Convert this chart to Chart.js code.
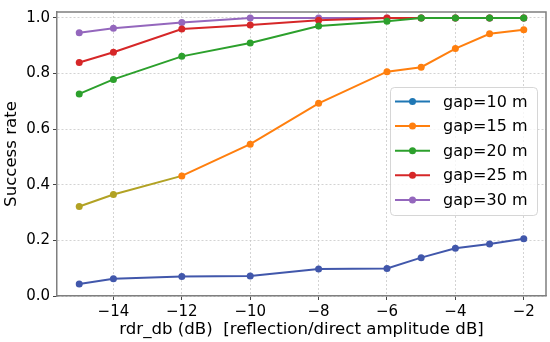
<!DOCTYPE html>
<html>
<head>
<meta charset="utf-8">
<script src="https://cdn.jsdelivr.net/npm/chart.js@4/dist/chart.umd.min.js"></script>
<style>
  html, body { margin: 0; padding: 0; background: #fff; }
  #wrap { width: 550px; height: 342px; }
</style>
</head>
<body>
<div id="wrap"><canvas id="chart" width="550" height="342"></canvas></div>
<script>
// data
const rdrDb = [-15, -14, -12, -10, -8, -6, -5, -4, -3, -2];
const xTicks = [-14, -12, -10, -8, -6, -4, -2];
const yTicks = [0, 0.2, 0.4, 0.6, 0.8, 1.0];

const gapLabels = ['gap=10 m', 'gap=15 m', 'gap=20 m', 'gap=25 m', 'gap=30 m'];
const gap10 = [0.043, 0.062, 0.070, 0.072, 0.097, 0.099, 0.138, 0.172, 0.187, 0.206];
const gap15 = [0.322, 0.365, 0.432, 0.546, 0.693, 0.807, 0.823, 0.890, 0.943, 0.958];
const gap20 = [0.727, 0.779, 0.862, 0.910, 0.971, 0.988, 1.0, 1.0, 1.0, 1.0];
const gap25 = [0.840, 0.877, 0.960, 0.975, 0.992, 1.0, 1.0, 1.0, 1.0, 1.0];
const gap30 = [0.947, 0.963, 0.984, 1.0, 1.0, 1.0, 1.0, 1.0, 1.0, 1.0];

const legendColors = ['#1f77b4', '#ff7f0e', '#2ca02c', '#d62728', '#9467bd'];
const FONT = "'DejaVu Sans', sans-serif";

function makeSet(label, values, color) {
    return {
        label: label,
        data: rdrDb.map((x, i) => ({ x: x, y: values[i] })),
        borderColor: color,
        backgroundColor: color,
        borderWidth: 2,
        pointRadius: 3.5,
        pointHoverRadius: 3.5,
        pointBorderWidth: 0,
        tension: 0
    };
}

const sets = [
    makeSet(gapLabels[0], gap10, '#4157ab'),
    makeSet(gapLabels[1], gap15, '#ff7f0e'),
    makeSet(gapLabels[2], gap20, '#2ca02c'),
    makeSet(gapLabels[3], gap25, '#d62728'),
    makeSet(gapLabels[4], gap30, '#9467bd')
];
// the first stretch of the 15 m curve shows up olive in the reference
const olive = '#b2a224';
sets[1].segment = { borderColor: ctx => ctx.p1DataIndex <= 2 ? olive : undefined };
sets[1].pointBackgroundColor = rdrDb.map((x, i) => i < 2 ? olive : '#ff7f0e');

// legend box drawn inside the plot, upper right
const innerLegend = {
    id: 'innerLegend',
    afterDatasetsDraw(chart) {
        const c = chart.ctx;
        const x0 = 390, y0 = 87, w = 147, h = 128, r = 4;
        c.save();
        c.globalAlpha = 0.8;
        c.fillStyle = '#fff';
        c.strokeStyle = '#cccccc';
        c.lineWidth = 1;
        c.beginPath();
        c.roundRect(x0 + 0.5, y0 + 0.5, w, h, r);
        c.fill();
        c.stroke();
        c.globalAlpha = 1;
        c.font = '16px ' + FONT;
        c.textBaseline = 'middle';
        c.fillStyle = '#000';
        gapLabels.forEach((lab, i) => {
            const y = 101.5 + i * 24.6;
            c.strokeStyle = legendColors[i];
            c.lineWidth = 2;
            c.beginPath();
            c.moveTo(395, y);
            c.lineTo(430, y);
            c.stroke();
            c.fillStyle = legendColors[i];
            c.beginPath();
            c.arc(412.5, y, 3.5, 0, Math.PI * 2);
            c.fill();
            c.fillStyle = '#000';
            c.fillText(lab, 443, y + 1);
        });
        c.restore();
    }
};

const gridStyle = {
    color: '#c8c8c8',
    lineWidth: 0.8,
    tickColor: '#444',
    tickLength: 4,
    tickWidth: 1,
    drawTicks: true
};

new Chart(document.getElementById('chart'), {
    type: 'line',
    data: { datasets: sets },
    options: {
        responsive: false,
        animation: false,
        layout: { padding: { top: 6, right: 4, left: 0, bottom: 0 } },
        plugins: {
            legend: { display: false },
            tooltip: { enabled: false }
        },
        scales: {
            x: {
                type: 'linear',
                min: -15.65,
                max: -1.35,
                afterBuildTicks: axis => { axis.ticks = xTicks.map(v => ({ value: v })); },
                afterFit: axis => { axis.height = 46; },
                grid: gridStyle,
                border: { display: true, color: '#7f7f7f', width: 1.5, dash: [2, 2] },
                ticks: {
                    color: '#000',
                    font: { family: FONT, size: 15 },
                    padding: 3,
                    maxRotation: 0,
                    callback: v => (v < 0 ? '\u2212' + Math.abs(v) : String(v))
                },
                title: {
                    display: true,
                    text: 'rdr_db (dB)  [reflection/direct amplitude dB]',
                    color: '#000',
                    font: { family: FONT, size: 16.6 },
                    padding: { top: 0, bottom: 2 }
                }
            },
            y: {
                min: 0,
                max: 1.0215,
                afterBuildTicks: axis => { axis.ticks = yTicks.map(v => ({ value: v })); },
                afterFit: axis => { axis.width = 57; },
                grid: gridStyle,
                border: { display: true, color: '#7f7f7f', width: 1.5, dash: [2, 2] },
                ticks: {
                    color: '#000',
                    font: { family: FONT, size: 15 },
                    padding: 3,
                    callback: v => v.toFixed(1)
                },
                title: {
                    display: true,
                    text: 'Success rate',
                    color: '#000',
                    font: { family: FONT, size: 16.6 },
                    padding: { top: 2, bottom: 0 }
                }
            }
        }
    },
    plugins: [innerLegend, {
        // top/right frame
        id: 'frame',
        afterDatasetsDraw(chart) {
            const a = chart.chartArea, c = chart.ctx;
            c.save();
            c.strokeStyle = '#7f7f7f';
            c.lineWidth = 1.5;
            c.beginPath();
            c.moveTo(a.left, a.top);
            c.lineTo(a.right, a.top);
            c.lineTo(a.right, a.bottom);
            c.stroke();
            c.restore();
        }
    }]
});
</script>
</body>
</html>
